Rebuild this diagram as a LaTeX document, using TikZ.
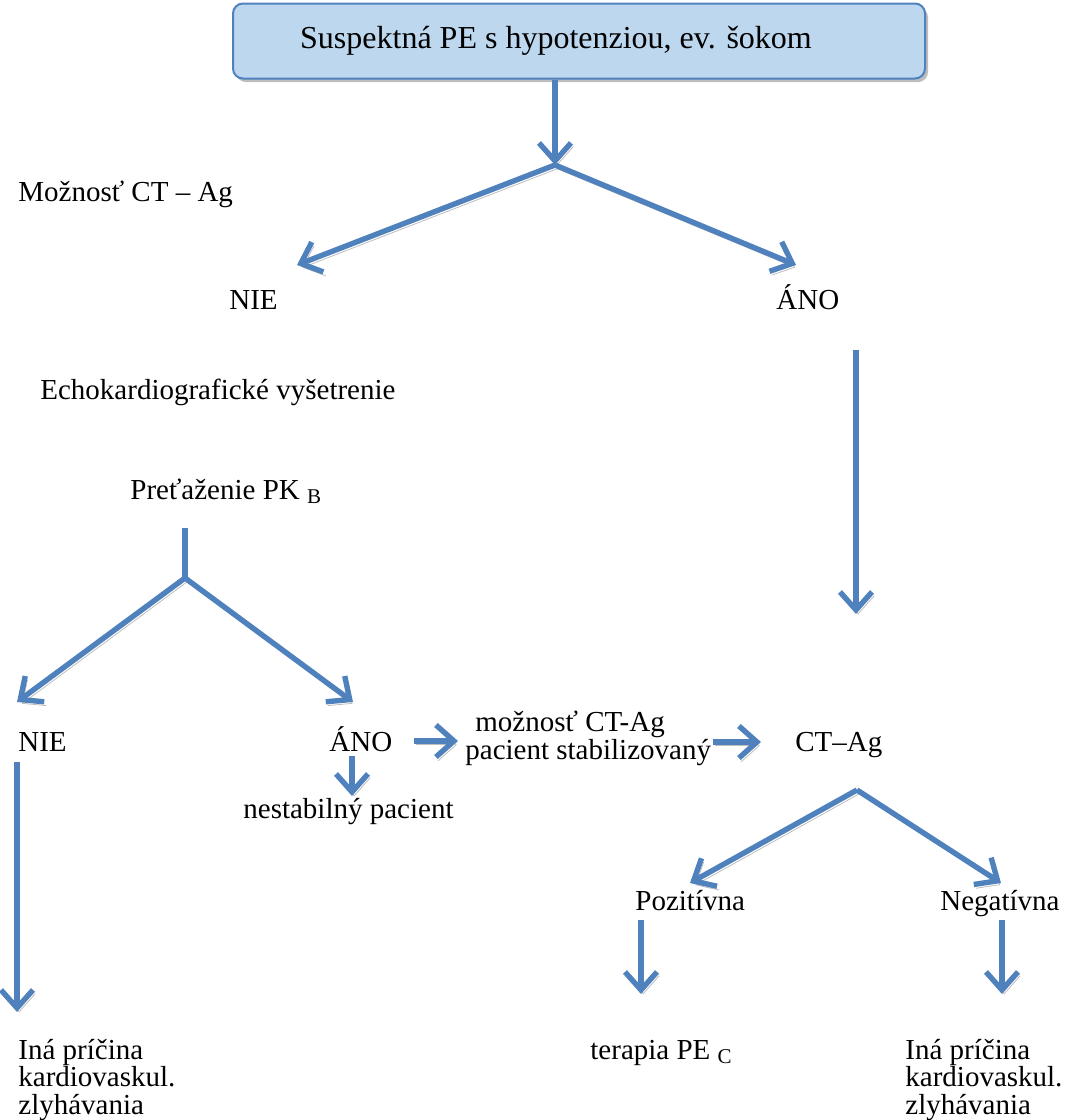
\documentclass[tikz,border=0pt]{standalone}
\usepackage{fontspec}
\setmainfont{Liberation Serif}
\usetikzlibrary{arrows.meta}
\definecolor{arrblue}{HTML}{4F81BD}
\definecolor{boxfill}{HTML}{BDD7EE}
\definecolor{shadowgray}{HTML}{BDBDBD}
\tikzset{
  shadowed/.style={preaction={draw=shadowgray, transform canvas={shift={(1.1pt,-1.9pt)}}}},
  arr/.style={draw=arrblue, line width=2.7pt, -{Straight Barb[length=9pt,width=16pt]}, shadowed},
  plainline/.style={draw=arrblue, line width=2.7pt, shadowed},
  lbl/.style={font=\fontsize{14.5}{13.6}\selectfont, inner sep=0pt, anchor=base west},
  topbox/.style={draw=arrblue, fill=boxfill, line width=1pt, rounded corners=5pt,
    preaction={fill=shadowgray, transform canvas={shift={(1.5pt,-1.8pt)}}}},
}
\begin{document}
\begin{tikzpicture}[x=0.5pt,y=-0.5pt]
\useasboundingbox (0,0) rectangle (1069,1120);
% top box
\node[topbox, minimum width=346pt, minimum height=37.5pt, inner sep=0pt] (box) at (579,41) {};
\node[font=\fontsize{16}{16}\selectfont, inner sep=0pt] (boxtext) at (556,41) {Suspektná PE s hypotenziou, ev. šokom};
% coordinates
\coordinate (b0) at (555,80);
\coordinate (j1) at (555,165);
\coordinate (t1l) at (297,265);
\coordinate (t1r) at (796,265);
\coordinate (r0) at (856,350);
\coordinate (r1) at (856,614);
\coordinate (p0) at (185,528);
\coordinate (j2) at (185,578);
\coordinate (t2l) at (17,702);
\coordinate (t2r) at (353,702);
\coordinate (a1s) at (414,741);
\coordinate (a1e) at (458,741);
\coordinate (a2s) at (713,742);
\coordinate (a2e) at (761,742);
\coordinate (d1s) at (352,756);
\coordinate (d1e) at (352,796);
\coordinate (l1s) at (17,762);
\coordinate (l1e) at (17,1012);
\coordinate (j3) at (857,790);
\coordinate (t3l) at (690,883);
\coordinate (t3r) at (1001,883);
\coordinate (d2s) at (641,920);
\coordinate (d2e) at (641,994);
\coordinate (d3s) at (1002,920);
\coordinate (d3e) at (1002,994);
% labels
\node[lbl] (moz) at (18,201) {Možnosť CT – Ag};
\node[lbl] (nie1) at (229,309) {NIE};
\node[lbl] (ano1) at (776,309) {ÁNO};
\node[lbl] (echo) at (40,399) {Echokardiografické vyšetrenie};
\node[lbl] (pret) at (130,499) {Preťaženie PK \raisebox{-0.35ex}{\fontsize{10.5}{10.5}\selectfont B}};
\node[lbl] (nie2) at (18,751) {NIE};
\node[lbl] (ano2) at (329,751) {ÁNO};
\node[lbl] (mozn) at (475,731) {možnosť CT-Ag};
\node[lbl] (stab) at (465,759) {pacient stabilizovaný};
\node[lbl] (ctag) at (795,751) {CT–Ag};
\node[lbl] (nest) at (243,818) {nestabilný pacient};
\node[lbl] (poz) at (635,910) {Pozitívna};
\node[lbl] (neg) at (940,910) {Negatívna};
\node[lbl] (ter) at (590,1059) {terapia PE \raisebox{-0.35ex}{\fontsize{10.5}{10.5}\selectfont C}};
\node[lbl] (ina1) at (18,1059) {\renewcommand{\arraystretch}{0.95}\begin{tabular}[t]{@{}l@{}}Iná príčina\\kardiovaskul.\\zlyhávania\end{tabular}};
\node[lbl] (ina2) at (905,1059) {\renewcommand{\arraystretch}{0.95}\begin{tabular}[t]{@{}l@{}}Iná príčina\\kardiovaskul.\\zlyhávania\end{tabular}};
% connectors
\draw[arr] (b0) -- (j1);
\draw[arr] (j1) -- (t1l);
\draw[arr] (j1) -- (t1r);
\draw[arr] (r0) -- (r1);
\draw[plainline] (p0) -- (j2);
\draw[arr] (j2) -- (t2l);
\draw[arr] (j2) -- (t2r);
\draw[arr] (a1s) -- (a1e);
\draw[arr] (a2s) -- (a2e);
\draw[arr] (d1s) -- (d1e);
\draw[arr] (l1s) -- (l1e);
\draw[arr] (j3) -- (t3l);
\draw[arr] (j3) -- (t3r);
\draw[arr] (d2s) -- (d2e);
\draw[arr] (d3s) -- (d3e);
\end{tikzpicture}
\end{document}
